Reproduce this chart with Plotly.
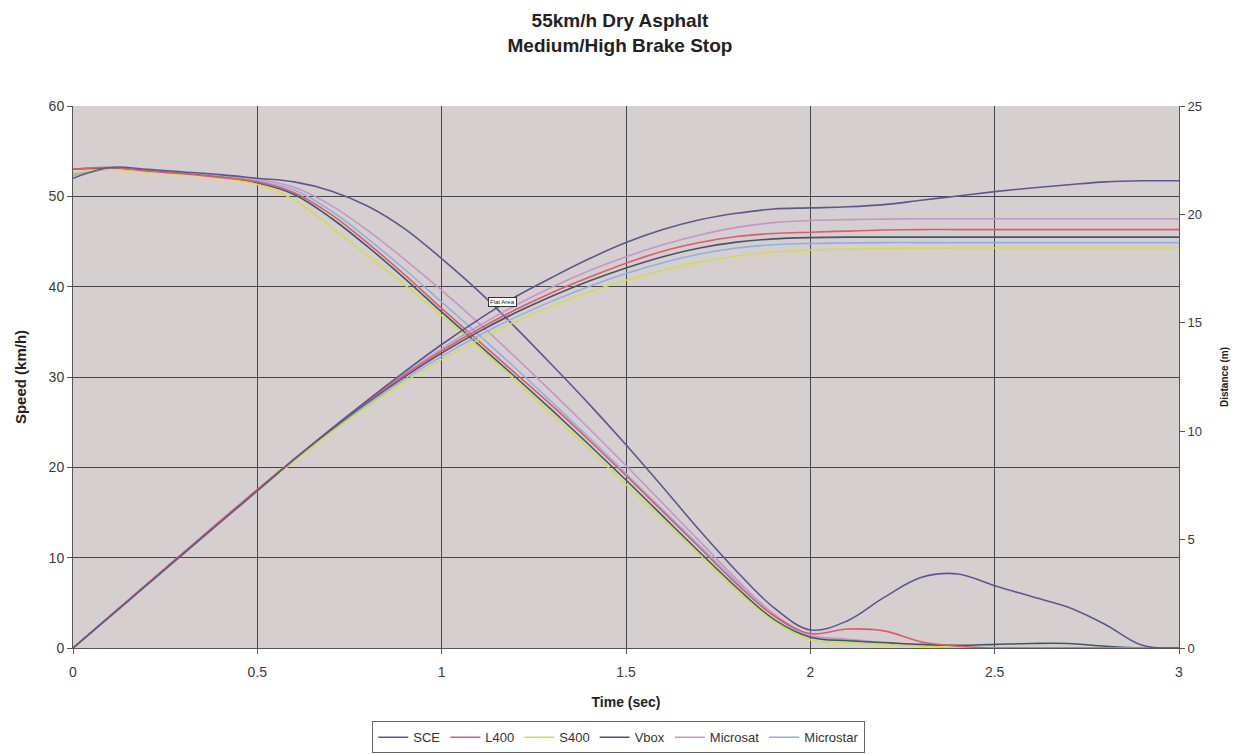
import plotly.graph_objects as go

time_s = [round(i * 0.1, 1) for i in range(31)]

series_names = ["SCE", "L400", "S400", "Vbox", "Microsat", "Microstar"]
series_colors = ["#5e5690", "#e05a6a", "#d2dc50", "#3c5a6a", "#c596c8", "#8fb0e0"]

speed_sce = [52.0, 53.2, 53.0, 52.7, 52.4, 52.0, 51.6, 50.6, 48.9, 46.4, 43.1, 39.5, 35.5, 31.3, 27.0, 22.5,
             17.8, 13.0, 8.5, 4.5, 2.0, 3.0, 5.6, 7.8, 8.2, 6.9, 5.7, 4.5, 2.6, 0.3, 0.0]
speed_l400 = [53.0, 53.2, 52.8, 52.5, 52.1, 51.6, 50.4, 48.0, 44.8, 41.3, 37.6, 34.0, 30.4, 26.8, 23.0, 19.1,
              15.1, 11.1, 7.1, 3.6, 1.6, 2.1, 1.9, 0.7, 0.2, 0.0, 0.0, 0.0, 0.0, 0.0, 0.0]
speed_s400 = [52.6, 53.0, 52.7, 52.4, 52.0, 51.3, 49.6, 46.6, 43.4, 40.2, 36.8, 33.3, 29.6, 25.8, 22.0, 18.1,
              14.2, 10.3, 6.4, 3.0, 0.9, 0.6, 0.4, 0.2, 0.1, 0.0, 0.0, 0.0, 0.0, 0.0, 0.0]
speed_vbox = [53.0, 53.1, 52.8, 52.5, 52.1, 51.5, 50.2, 47.6, 44.4, 40.9, 37.2, 33.6, 30.0, 26.3, 22.5, 18.6,
              14.6, 10.6, 6.7, 3.2, 1.2, 0.8, 0.6, 0.4, 0.3, 0.4, 0.5, 0.5, 0.2, 0.0, 0.0]
speed_microsat = [52.5, 53.1, 52.9, 52.6, 52.3, 51.9, 51.0, 49.0, 46.2, 43.0, 39.6, 36.0, 32.2, 28.3, 24.3, 20.2,
                  16.0, 11.8, 7.6, 3.8, 1.4, 1.0, 0.6, 0.3, 0.1, 0.0, 0.0, 0.0, 0.0, 0.0, 0.0]
speed_microstar = [52.3, 53.0, 52.8, 52.5, 52.2, 51.7, 50.7, 48.4, 45.3, 41.9, 38.3, 34.7, 31.0, 27.2, 23.3, 19.3,
                   15.3, 11.3, 7.3, 3.6, 1.3, 0.9, 0.5, 0.3, 0.1, 0.0, 0.0, 0.0, 0.0, 0.0, 0.0]

dist_sce = [0, 1.45, 2.9, 4.35, 5.8, 7.25, 8.7, 10.1, 11.45, 12.75, 14.0, 15.15, 16.2, 17.1, 17.95, 18.7,
            19.3, 19.75, 20.05, 20.25, 20.3, 20.35, 20.45, 20.65, 20.85, 21.05, 21.22, 21.37, 21.5, 21.55, 21.55]
dist_l400 = [0, 1.47, 2.94, 4.4, 5.86, 7.3, 8.72, 10.1, 11.4, 12.6, 13.7, 14.7, 15.6, 16.4, 17.1, 17.75,
             18.3, 18.7, 18.98, 19.12, 19.18, 19.23, 19.28, 19.3, 19.3, 19.3, 19.3, 19.3, 19.3, 19.3, 19.3]
dist_s400 = [0, 1.46, 2.92, 4.38, 5.82, 7.24, 8.62, 9.94, 11.16, 12.28, 13.3, 14.22, 15.05, 15.78, 16.42, 16.96,
             17.42, 17.8, 18.08, 18.27, 18.36, 18.4, 18.42, 18.44, 18.45, 18.45, 18.45, 18.45, 18.45, 18.45, 18.45]
dist_vbox = [0, 1.47, 2.94, 4.4, 5.86, 7.3, 8.7, 10.06, 11.34, 12.52, 13.6, 14.58, 15.46, 16.24, 16.93, 17.53,
             18.05, 18.45, 18.72, 18.87, 18.93, 18.95, 18.95, 18.95, 18.95, 18.95, 18.95, 18.95, 18.95, 18.95, 18.95]
dist_microsat = [0, 1.46, 2.93, 4.39, 5.84, 7.28, 8.71, 10.1, 11.42, 12.66, 13.8, 14.85, 15.8, 16.65, 17.4, 18.05,
                 18.6, 19.05, 19.4, 19.62, 19.72, 19.76, 19.78, 19.8, 19.8, 19.8, 19.8, 19.8, 19.8, 19.8, 19.8]
dist_microstar = [0, 1.46, 2.92, 4.38, 5.83, 7.26, 8.66, 10.0, 11.25, 12.4, 13.45, 14.4, 15.25, 16.0, 16.68, 17.27,
                  17.77, 18.17, 18.45, 18.6, 18.66, 18.68, 18.7, 18.7, 18.7, 18.7, 18.7, 18.7, 18.7, 18.7, 18.7]

speeds = [speed_sce, speed_l400, speed_s400, speed_vbox, speed_microsat, speed_microstar]
dists = [dist_sce, dist_l400, dist_s400, dist_vbox, dist_microsat, dist_microstar]

fig = go.Figure()
order = [5, 4, 3, 2, 1, 0]
for i in order:
    fig.add_trace(go.Scatter(x=time_s, y=dists[i], mode="lines", name=series_names[i],
                             legendgroup=series_names[i], showlegend=False, yaxis="y2",
                             line=dict(color=series_colors[i], width=1.6, shape="spline")))
for i in order:
    fig.add_trace(go.Scatter(x=time_s, y=speeds[i], mode="lines", name=series_names[i],
                             legendgroup=series_names[i], showlegend=True,
                             legendrank=i + 1,
                             line=dict(color=series_colors[i], width=1.6, shape="spline")))

grid_col = "#45454d"
fig.update_layout(
    width=1240, height=754,
    paper_bgcolor="white", plot_bgcolor="#d6cfd0",
    margin=dict(l=65, r=69, t=98, b=114),
    font=dict(family="Liberation Sans, Arial, sans-serif", size=14, color="#3a3a3a"),
    title=dict(text="<b>55km/h Dry Asphalt<br>Medium/High Brake Stop</b>", x=0.4935, xanchor="center",
               y=0.975, yanchor="middle", font=dict(size=19, color="#222222")),
    xaxis=dict(range=[0, 3], tick0=0, dtick=0.5, showgrid=True, gridcolor=grid_col, gridwidth=1,
               zeroline=False, showline=True, linecolor="#555555", ticks="outside", ticklen=5,
               tickcolor="#555555", ticklabelstandoff=6, automargin=False,
               tickfont=dict(size=14),
               title=dict(text="<b>Time (sec)</b>", font=dict(size=14, color="#222222"), standoff=18)),
    yaxis=dict(range=[0, 60], dtick=10, showgrid=True, gridcolor=grid_col, gridwidth=1, zeroline=False,
               showline=True, linecolor="#555555", ticks="outside", ticklen=5, tickcolor="#555555",
               automargin=False, tickfont=dict(size=14),
               title=dict(text="<b>Speed (km/h)</b>", font=dict(size=15, color="#222222"), standoff=18)),
    yaxis2=dict(range=[0, 25], dtick=5, overlaying="y", side="right", showgrid=False, zeroline=False,
                showline=True, linecolor="#555555", ticks="outside", ticklen=5, tickcolor="#555555",
                automargin=False, tickfont=dict(size=13),
                title=dict(text="<b>Distance (m)</b>", font=dict(size=10, color="#222222"), standoff=19)),
    legend=dict(orientation="h", x=0.4935, xanchor="center", yref="container", y=0.054, yanchor="top",
                bordercolor="#666666", borderwidth=1, bgcolor="white",
                font=dict(size=13, color="#333333"), itemwidth=30, traceorder="normal"),
    showlegend=True,
)

fig.add_annotation(x=1.165, y=38.3, xref="x", yref="y", text="Flat Area", showarrow=False,
                   font=dict(size=6, color="#222222"), bgcolor="white", bordercolor="#333333",
                   borderwidth=1, borderpad=1)

fig.write_html("out.html")
